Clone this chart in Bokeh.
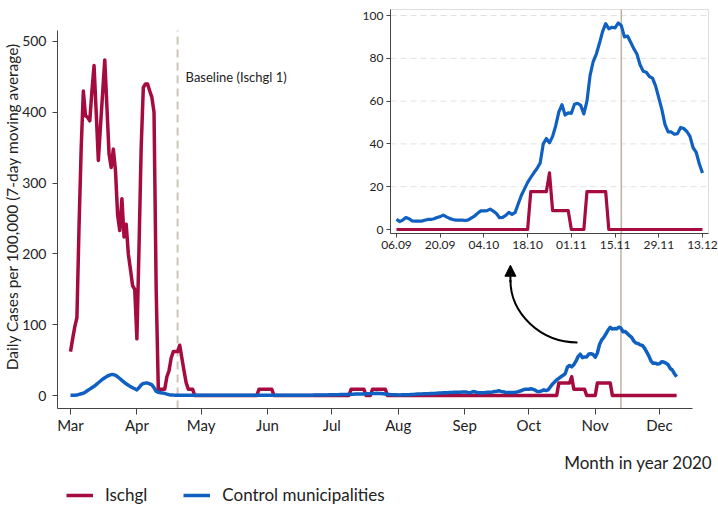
import math
import pandas as pd
from bokeh.plotting import figure
from bokeh.models import (Range1d, Label, Legend, LegendItem, Arrow, NormalHead,
                          FixedTicker, MonthsTicker, DatetimeTickFormatter, ColumnDataSource,
                          DatetimeAxis, LinearAxis)
from bokeh.embed import file_html
from bokeh.resources import INLINE

# ---------------- data ----------------
ischgl = [
    62, 80, 97, 110, 240, 350, 430, 395, 393, 388,
    430, 466, 400, 332, 380, 427, 474, 408, 341, 322,
    348, 318, 255, 233, 278, 224, 242, 200, 178, 155,
    150, 80, 210, 350, 435, 440, 440, 430, 421, 400,
    150, 9, 9, 9, 9, 26.5, 35, 53, 62, 62,
    62, 71, 53, 35, 18, 9, 9, 9, 0, 0,
    0, 0, 0, 0, 0, 0, 0, 0, 0, 0,
    0, 0, 0, 0, 0, 0, 0, 0, 0, 0,
    0, 0, 0, 0, 0, 0, 0, 0, 8.8, 8.8,
    8.8, 8.8, 8.8, 8.8, 8.8, 0, 0, 0, 0, 0,
    0, 0, 0, 0, 0, 0, 0, 0, 0, 0,
    0, 0, 0, 0, 0, 0, 0, 0, 0, 0,
    0, 0, 0, 0, 0, 0, 0, 0, 0, 0,
    0, 8.8, 8.8, 8.8, 8.8, 8.8, 8.8, 8.8, 0, 0,
    0, 8.8, 8.8, 8.8, 8.8, 8.8, 8.8, 8.8, 0, 0,
    0, 0, 0, 0, 0, 0, 0, 0, 0, 0,
    0, 0, 0, 0, 0, 0, 0, 0, 0, 0,
    0, 0, 0, 0, 0, 0, 0, 0, 0, 0,
    0, 0, 0, 0, 0,
    # 06.09 onwards (inset period)
    0, 0, 0, 0, 0, 0, 0, 0, 0, 0,
    0, 0, 0, 0, 0, 0, 0, 0, 0, 0,
    0, 0, 0, 0, 0, 0, 0, 0, 0, 0,
    0, 0, 0, 0, 0, 0, 0, 0, 0, 0,
    0, 0, 0, 17.7, 17.7, 17.7, 17.7, 17.7, 17.7, 26.5,
    8.8, 8.8, 8.8, 8.8, 8.8, 8.8, 0, 0, 0, 0,
    0, 17.7, 17.7, 17.7, 17.7, 17.7, 17.7, 17.7, 0, 0,
    0, 0, 0, 0, 0, 0, 0, 0, 0, 0,
    0, 0, 0, 0, 0, 0, 0, 0, 0, 0,
    0, 0, 0, 0, 0, 0, 0, 0, 0,
]
control = [
    0.3, 0.3, 0.4, 0.6, 1.5, 2.5, 3.2, 5, 7, 9,
    11, 13, 15.5, 18, 20.5, 23, 25, 27, 28.5, 29.5,
    29.5, 28.5, 26.5, 24, 21.5, 19, 16.5, 14.5, 12.5, 11,
    9.5, 8, 11, 15, 17, 17.5, 17.5, 16.5, 15, 11,
    6, 4.5, 4, 3.5, 3, 2, 1.2, 0.8, 0.6, 0.5,
    0.5, 0.4, 0.4, 0.4, 0.3, 0.3, 0.3, 0.3, 0.3, 0.3,
    0.3, 0.3, 0.2, 0.2, 0.2, 0.2, 0.2, 0.2, 0.2, 0.2,
    0.2, 0.2, 0.2, 0.2, 0.2, 0.2, 0.2, 0.2, 0.2, 0.2,
    0.2, 0.2, 0.2, 0.2, 0.3, 0.3, 0.3, 0.3, 0.3, 0.3,
    0.3, 0.3, 0.4, 0.4, 0.4, 0.4, 0.4, 0.4, 0.4, 0.4,
    0.4, 0.4, 0.4, 0.3, 0.3, 0.3, 0.3, 0.3, 0.4, 0.4,
    0.4, 0.5, 0.5, 0.5, 0.6, 0.6, 0.6, 0.7, 0.7, 0.8,
    0.8, 0.9, 1.0, 1.0, 1.1, 1.2, 1.3, 1.4, 1.5, 1.6,
    1.7, 1.8, 1.9, 2.0, 2.1, 2.2, 2.2, 2.3, 2.4, 2.5,
    2.6, 2.8, 3.0, 3.1, 3.0, 2.8, 2.5, 2.2, 1.8, 1.5,
    1.2, 1.0, 0.9, 0.8, 0.8, 0.9, 1.0, 1.1, 1.2, 1.4,
    1.6, 1.8, 2.0, 2.2, 2.3, 2.4, 2.5, 2.6, 2.7, 2.8,
    3.0, 3.2, 3.4, 3.6, 3.8, 3.9, 4.0, 4.2, 4.4, 4.5,
    4.6, 4.7, 4.6, 4.8, 5.0,
    # 06.09 onwards (inset period)
    4.8, 3.7, 4.4, 5.6, 5.0, 4.0, 3.9, 3.9, 3.9, 4.3,
    4.7, 4.7, 5.0, 5.6, 6.0, 6.7, 5.9, 5.2, 4.7, 4.4,
    4.4, 4.4, 4.2, 4.5, 5.4, 6.3, 7.6, 8.7, 8.7, 8.8,
    9.5, 8.6, 7.5, 5.5, 5.7, 6.6, 8.0, 7.0, 8.0, 12,
    16, 19, 22, 24.3, 26.5, 28.5, 31, 40, 42.5, 40.5,
    43.5, 48.5, 55, 58.3, 53.5, 54.5, 54.3, 58.5, 59, 58,
    54, 60, 72, 78.5, 82, 87, 92.5, 96.2, 93.8, 94.5,
    94.2, 96.5, 95.3, 90, 90.4, 87.5, 84.5, 82, 77, 74,
    73.5, 71.5, 70.7, 67, 61.5, 56, 49, 45.6, 45.6, 44.5,
    44.8, 47.7, 47.2, 45.8, 43.5, 38.2, 36, 30.6, 26.4,
]
series_labels = ["Ischgl", "Control municipalities"]
main_start = "2020-03-01"
inset_start = "2020-09-06"
inset_days = 99
baseline_date = "2020-04-20"
cutoff_main = "2020-11-13"
cutoff_inset = "2020-11-17"
y_ticks_main = [0, 100, 200, 300, 400, 500]
y_ticks_inset = [0, 20, 40, 60, 80, 100]
grid_inset = [20, 40, 60, 80, 100]
inset_tick_dates = ["2020-09-06", "2020-09-20", "2020-10-04", "2020-10-18",
                    "2020-11-01", "2020-11-15", "2020-11-29", "2020-12-13"]

# ---------------- style ----------------
FONT = "Lato"
RED = "#a50b3e"
BLUE = "#0f60c0"
TXT = "#222222"
AX = "#444444"
VLINE = "#bdb3a3"


def ms(ts, days=0.0):
    return (pd.Timestamp(ts) + pd.Timedelta(days=days)).value / 1e6


main_dates = pd.date_range(main_start, periods=len(ischgl), freq="D")
src = ColumnDataSource(dict(date=main_dates, ischgl=ischgl, control=control))
inset_dates = pd.date_range(inset_start, periods=inset_days, freq="D")
src_in = ColumnDataSource(dict(date=inset_dates, ischgl=ischgl[-inset_days:],
                               control=control[-inset_days:]))

# main axis extents (main panel)
MY0, MY1 = -18.4, 515.5
MX0, MX1 = ms(main_start, -6.07), ms(main_start, 290.4)
MXT = ms(main_start, 299.75)          # right end of the x title
MXL = ms(main_start, -27.1)           # position of the y title
# inset panel extents (in inset coordinates)
IX0, IX1 = ms(inset_start, -1.92), ms(inset_start, 99.92)
IY0, IY1 = -1.87, 102.8

p = figure(width=718, height=509, x_axis_type="datetime", output_backend="svg",
           toolbar_location=None,
           x_range=Range1d(ms(main_start, -32.68), ms(main_start, 302.55)),
           y_range=Range1d(-161.0, 557.9),
           min_border_left=0, min_border_right=0, min_border_top=0, min_border_bottom=0)
p.extra_x_ranges = {"ix": Range1d(ms(inset_start, -126.83), ms(inset_start, 103.13))}
p.extra_y_ranges = {"iy": Range1d(-130.84, 107.01)}
p.outline_line_color = None
p.grid.visible = False
p.background_fill_color = "white"
p.border_fill_color = "white"

# ---- main panel ----
p.segment(x0=[ms(baseline_date)], y0=[MY0], x1=[ms(baseline_date)], y1=[MY1],
          line_color="#cdc5b6", line_dash="8 5", line_width=2)
p.segment(x0=[ms(cutoff_main)], y0=[MY0], x1=[ms(cutoff_main)], y1=[MY1],
          line_color=VLINE, line_width=1.5)
r1 = p.line("date", "ischgl", source=src, line_color=RED, line_width=3.5, line_join="round")
r2 = p.line("date", "control", source=src, line_color=BLUE, line_width=3.5, line_join="round")

p.add_layout(Label(x=ms(baseline_date), y=450, x_offset=8, text="Baseline (Ischgl 1)",
                   text_font=FONT, text_font_size="13px", text_color=TXT,
                   text_baseline="middle"))

# curved arrow pointing at the inset
p.bezier(x0=[ms(main_start, 236.7)], y0=[75], x1=[ms(main_start, 205.4)], y1=[163],
         cx0=[ms(main_start, 219.4)], cy0=[75], cx1=[ms(main_start, 205.4)], cy1=[116],
         line_color="black", line_width=2)
p.add_layout(Arrow(end=NormalHead(size=11, fill_color="black", line_color="black"),
                   x_start=ms(main_start, 205.4), y_start=160,
                   x_end=ms(main_start, 205.4), y_end=184,
                   line_color="black", line_width=2))

for ax in (p.xaxis[0], p.yaxis[0]):
    ax.axis_line_color = AX
    ax.major_tick_line_color = AX
    ax.minor_tick_line_color = None
    ax.major_tick_in = 0
    ax.major_label_text_font = FONT
    ax.major_label_text_color = TXT

p.xaxis.ticker = MonthsTicker(months=list(range(12)))
p.xaxis.formatter = DatetimeTickFormatter(months="%b", days="%b")
p.xaxis.bounds = (MX0, MX1)
p.xaxis.fixed_location = MY0
p.xaxis.major_tick_out = 6
p.xaxis.major_label_standoff = 1
p.xaxis.major_label_text_font_size = "15px"
p.yaxis.ticker = FixedTicker(ticks=y_ticks_main)
p.yaxis.bounds = (MY0, MY1)
p.yaxis.fixed_location = MX0
p.yaxis.major_tick_out = 5
p.yaxis.major_label_standoff = 6
p.yaxis.major_label_text_font_size = "14px"

p.add_layout(Label(x=MXL, y=267, text="Daily Cases per 100,000 (7-day moving average)",
                   angle=math.pi / 2, text_align="center", text_baseline="middle",
                   text_font=FONT, text_font_size="15.5px", text_color=TXT))

# ---- inset panel ----
p.quad(left=[IX0], right=[IX1], bottom=[IY0], top=[IY1], x_range_name="ix", y_range_name="iy",
       fill_color="white", line_color="#dedede", line_width=1)
p.segment(x0=[IX0] * len(grid_inset), y0=grid_inset, x1=[IX1] * len(grid_inset), y1=grid_inset,
          x_range_name="ix", y_range_name="iy", line_color="#e2e2e2", line_dash="6 4",
          line_width=1)
p.segment(x0=[ms(cutoff_inset)], y0=[IY0], x1=[ms(cutoff_inset)], y1=[IY1],
          x_range_name="ix", y_range_name="iy", line_color=VLINE, line_width=1.5)
p.line("date", "ischgl", source=src_in, x_range_name="ix", y_range_name="iy",
       line_color=RED, line_width=3.2, line_join="round")
p.line("date", "control", source=src_in, x_range_name="ix", y_range_name="iy",
       line_color=BLUE, line_width=3.2, line_join="round")

xi = DatetimeAxis(x_range_name="ix", y_range_name="iy", fixed_location=IY0, bounds=(IX0, IX1),
                  ticker=FixedTicker(ticks=[ms(d) for d in inset_tick_dates]),
                  formatter=DatetimeTickFormatter(days="%d.%m", months="%d.%m",
                                                  years="%d.%m", hours="%d.%m"))
yi = LinearAxis(x_range_name="ix", y_range_name="iy", fixed_location=IX0, bounds=(IY0, IY1),
                ticker=FixedTicker(ticks=y_ticks_inset))
for ax in (xi, yi):
    ax.axis_line_color = AX
    ax.major_tick_line_color = AX
    ax.minor_tick_line_color = None
    ax.major_tick_in = 0
    ax.major_tick_out = 4
    ax.major_label_standoff = 3
    ax.major_label_text_font = FONT
    ax.major_label_text_font_size = "12px"
    ax.major_label_text_color = TXT
p.add_layout(xi, "below")
p.add_layout(yi, "left")

# ---- x title and legend below the main axis ----
p.add_layout(Label(x=MXT, y=-94.6, text="Month in year 2020", text_align="right",
                   text_baseline="middle", text_font=FONT, text_font_size="17px",
                   text_color=TXT))

legend = Legend(items=[LegendItem(label=series_labels[0], renderers=[r1]),
                       LegendItem(label=series_labels[1], renderers=[r2])],
                orientation="horizontal", location=(66, 4), glyph_width=27, glyph_height=18,
                label_standoff=12, spacing=36, padding=0, margin=0,
                border_line_color=None, background_fill_alpha=0,
                label_text_font=FONT, label_text_font_size="17px", label_text_color=TXT)
p.add_layout(legend)

open("out.html", "w").write(file_html(p, INLINE))
